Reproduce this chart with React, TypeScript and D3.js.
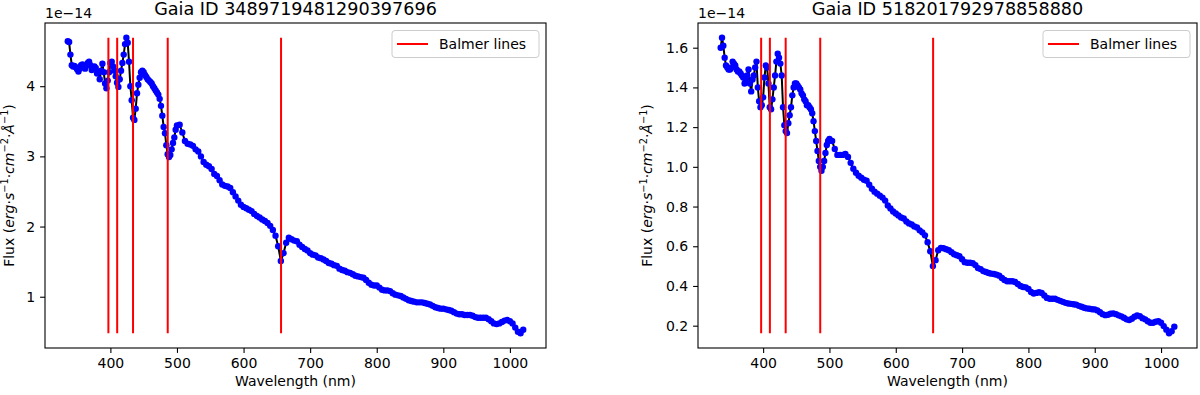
import React, { useEffect, useRef } from 'react';
import * as d3 from 'd3';

// Gaia XP sampled grid: 2 nm in the blue, 4 nm redwards of 500 nm
const WL_BLUE = d3.range(336, 500, 2);
const WL_RED = d3.range(500, 1021, 4);
const wavelengths = [...WL_BLUE, ...WL_RED];

// flux in units of 1e-14 erg s^-1 cm^-2 A^-1
const fluxA_blue = [
  4.64, 4.63, 4.45, 4.30, 4.28, 4.29, 4.27, 4.24, 4.21, 4.25,
  4.30, 4.31, 4.28, 4.25, 4.29, 4.33, 4.35, 4.30, 4.23, 4.25,
  4.28, 4.26, 4.18, 4.20, 4.10, 4.22, 4.32, 4.20, 4.04, 3.97,
  4.08, 4.20, 4.33, 4.35, 4.28, 4.22, 4.14, 4.05, 3.99, 4.10,
  4.22, 4.33, 4.45, 4.60, 4.69, 4.62, 4.35, 4.00, 3.80, 3.55,
  3.52, 3.68, 3.90, 4.02, 4.12, 4.20, 4.22, 4.20, 4.16, 4.13,
  4.10, 4.08, 4.06, 4.04, 4.00, 3.97, 3.94, 3.91, 3.88, 3.82,
  3.72, 3.58, 3.42, 3.33, 3.16, 3.03, 2.99, 3.02, 3.10, 3.19,
  3.27, 3.38,
];
const fluxA_red = [
  3.44, 3.45, 3.34, 3.22, 3.18, 3.17, 3.15, 3.10, 3.07, 3.00,
  2.92, 2.88, 2.86, 2.82, 2.75, 2.72, 2.66, 2.60, 2.58, 2.57,
  2.55, 2.49, 2.43, 2.37, 2.31, 2.28, 2.26, 2.24, 2.22, 2.18,
  2.15, 2.13, 2.10, 2.08, 2.05, 2.01, 1.95, 1.87, 1.72, 1.51,
  1.62, 1.77, 1.84, 1.82, 1.80, 1.79, 1.74, 1.71, 1.68, 1.66,
  1.62, 1.60, 1.59, 1.56, 1.55, 1.53, 1.51, 1.48, 1.47, 1.45,
  1.44, 1.40, 1.38, 1.37, 1.35, 1.34, 1.32, 1.30, 1.29, 1.28,
  1.27, 1.24, 1.20, 1.17, 1.16, 1.16, 1.13, 1.10, 1.09, 1.09,
  1.08, 1.05, 1.03, 1.02, 1.01, 0.99, 0.97, 0.95, 0.94, 0.93,
  0.92, 0.92, 0.92, 0.91, 0.90, 0.89, 0.87, 0.85, 0.84, 0.83,
  0.83, 0.82, 0.81, 0.80, 0.78, 0.76, 0.75, 0.75, 0.74, 0.74,
  0.74, 0.73, 0.71, 0.70, 0.70, 0.70, 0.70, 0.68, 0.65, 0.62,
  0.61, 0.62, 0.64, 0.66, 0.67, 0.65, 0.62, 0.56, 0.50, 0.48,
  0.53,
];

const fluxB_blue = [
  1.60, 1.65, 1.61, 1.55, 1.51, 1.50, 1.49, 1.49, 1.50, 1.53,
  1.52, 1.51, 1.49, 1.48, 1.48, 1.47, 1.46, 1.45, 1.42, 1.44,
  1.46, 1.49, 1.42, 1.38, 1.44, 1.46, 1.50, 1.53, 1.40, 1.33,
  1.30, 1.31, 1.35, 1.45, 1.51, 1.50, 1.42, 1.30, 1.29, 1.34,
  1.40, 1.46, 1.53, 1.57, 1.55, 1.52, 1.46, 1.30, 1.21, 1.18,
  1.17, 1.22, 1.26, 1.30, 1.36, 1.40, 1.42, 1.42, 1.41, 1.40,
  1.39, 1.37, 1.36, 1.34, 1.33, 1.31, 1.31, 1.30, 1.29, 1.27,
  1.23, 1.18, 1.13, 1.08, 1.03, 1.00, 0.98, 1.00, 1.03, 1.07,
  1.11, 1.13,
];
const fluxB_red = [
  1.14, 1.13, 1.09, 1.06, 1.06, 1.06, 1.065, 1.05, 1.02, 0.99,
  0.97, 0.955, 0.945, 0.935, 0.93, 0.91, 0.89, 0.875, 0.865, 0.855,
  0.845, 0.83, 0.805, 0.79, 0.775, 0.765, 0.755, 0.745, 0.74, 0.725,
  0.715, 0.71, 0.70, 0.695, 0.68, 0.67, 0.655, 0.62, 0.575, 0.50,
  0.53, 0.58, 0.592, 0.59, 0.585, 0.58, 0.57, 0.56, 0.555, 0.55,
  0.535, 0.52, 0.517, 0.517, 0.515, 0.505, 0.49, 0.485, 0.475, 0.47,
  0.465, 0.462, 0.46, 0.457, 0.452, 0.44, 0.43, 0.424, 0.424, 0.424,
  0.42, 0.41, 0.40, 0.395, 0.393, 0.385, 0.37, 0.362, 0.365, 0.369,
  0.365, 0.352, 0.34, 0.336, 0.336, 0.336, 0.33, 0.325, 0.32, 0.315,
  0.312, 0.31, 0.308, 0.306, 0.30, 0.295, 0.29, 0.287, 0.285, 0.283,
  0.282, 0.277, 0.268, 0.258, 0.253, 0.255, 0.26, 0.262, 0.258, 0.252,
  0.247, 0.24, 0.232, 0.228, 0.235, 0.245, 0.252, 0.248, 0.238, 0.232,
  0.222, 0.215, 0.215, 0.22, 0.223, 0.215, 0.198, 0.18, 0.162, 0.172,
  0.195,
];

const balmerLines = [397.0, 410.2, 434.0, 486.1, 656.3];
const xTicks = [400, 500, 600, 700, 800, 900, 1000];
const yTicksA = [1, 2, 3, 4];
const yTicksB = [0.2, 0.4, 0.6, 0.8, 1.0, 1.2, 1.4, 1.6];
const titles = ['Gaia ID 3489719481290397696', 'Gaia ID 518201792978858880'];

const FONT = 'DejaVu Sans, Verdana, sans-serif';
const W = 1200;
const H = 395;
const TOP = 23;
const BOTTOM = 348;

// axes frames and y-label positions
const frames = [
  { left: 45, right: 546, ylabelX: 13.5 },
  { left: 698, right: 1197, ylabelX: 652 },
];

function drawPanel(svg, flux, yTicks, yFmt, title, frame) {
  const g = svg.append('g');
  const pts = wavelengths.map((w, i) => ({ w, f: flux[i] }));

  const [wMin, wMax] = d3.extent(wavelengths);
  const xPad = (wMax - wMin) * 0.05;
  const x = d3.scaleLinear().domain([wMin - xPad, wMax + xPad]).range([frame.left, frame.right]);

  const [fMin, fMax] = d3.extent(flux);
  const yPad = (fMax - fMin) * 0.05;
  const y = d3.scaleLinear().domain([fMin - yPad, fMax + yPad]).range([BOTTOM, TOP]);

  const line = d3.line().x(d => x(d.w)).y(d => y(d.f));

  g.append('path')
    .datum(pts)
    .attr('d', line)
    .attr('fill', 'none')
    .attr('stroke', '#000')
    .attr('stroke-width', 2)
    .attr('stroke-linejoin', 'round');

  g.append('g')
    .selectAll('circle')
    .data(pts)
    .join('circle')
      .attr('cx', d => x(d.w))
      .attr('cy', d => y(d.f))
      .attr('r', 3.2)
      .attr('fill', '#0000ff');

  g.append('g')
    .selectAll('line')
    .data(balmerLines)
    .join('line')
      .attr('x1', d => x(d)).attr('x2', d => x(d))
      .attr('y1', y(fMin)).attr('y2', y(fMax))
      .attr('stroke', '#ff0000')
      .attr('stroke-width', 2);

  const xAxis = d3.axisBottom(x).tickValues(xTicks).tickFormat(d3.format('d'))
    .tickSize(4.9).tickPadding(4.9).tickSizeOuter(0);
  const yAxis = d3.axisLeft(y).tickValues(yTicks).tickFormat(yFmt)
    .tickSize(4.9).tickPadding(4.9).tickSizeOuter(0);

  const gx = g.append('g').attr('transform', `translate(0,${BOTTOM})`).call(xAxis);
  const gy = g.append('g').attr('transform', `translate(${frame.left},0)`).call(yAxis);
  [gx, gy].forEach(a => {
    a.select('.domain').remove();
    a.selectAll('line').attr('stroke', '#000').attr('stroke-width', 1.1);
    a.selectAll('text').attr('fill', '#000').style('font-family', FONT).style('font-size', '14px');
  });

  g.append('rect')
    .attr('x', frame.left).attr('y', TOP)
    .attr('width', frame.right - frame.left).attr('height', BOTTOM - TOP)
    .attr('fill', 'none').attr('stroke', '#000').attr('stroke-width', 1.1);

  const cx = (frame.left + frame.right) / 2;

  g.append('text')
    .attr('x', cx).attr('y', 14.5)
    .attr('text-anchor', 'middle')
    .style('font-family', FONT).style('font-size', '17.6px')
    .text(title);

  g.append('text')
    .attr('x', frame.left).attr('y', 18)
    .style('font-family', FONT).style('font-size', '14px')
    .text('1e\u221214');

  g.append('text')
    .attr('x', cx).attr('y', 386)
    .attr('text-anchor', 'middle')
    .style('font-family', FONT).style('font-size', '14px')
    .text('Wavelength (nm)');

  // y label with mathtext-like pieces
  const yl = g.append('text')
    .attr('transform', `translate(${frame.ylabelX},${(TOP + BOTTOM) / 2}) rotate(-90)`)
    .attr('text-anchor', 'middle')
    .style('font-family', FONT).style('font-size', '14px');
  const parts = [
    ['Flux (', 'n'], ['erg', 'i'], ['\u00b7', 'n'], ['s', 'i'], ['\u22121', 's'],
    ['\u00b7', 'n'], ['cm', 'i'], ['\u22122', 's'], ['\u00b7', 'n'], ['\u00c5', 'i'],
    ['\u22121', 's'], [')', 'n'],
  ];
  let raised = false;
  parts.forEach(([t, k]) => {
    const ts = yl.append('tspan').text(t);
    if (k === 'i') ts.style('font-style', 'italic');
    if (k === 's') {
      ts.style('font-size', '9.8px').attr('dy', raised ? 0 : -5.5);
      raised = true;
    } else if (raised) {
      ts.attr('dy', 5.5);
      raised = false;
    }
  });

  // legend
  const lg = g.append('g').attr('transform', `translate(${frame.right - 7 - 147},${TOP + 7.5})`);
  lg.append('rect')
    .attr('width', 147).attr('height', 27).attr('rx', 3)
    .attr('fill', '#fff').attr('fill-opacity', 0.8)
    .attr('stroke', '#cccccc').attr('stroke-width', 1);
  lg.append('line')
    .attr('x1', 5).attr('x2', 36).attr('y1', 13.5).attr('y2', 13.5)
    .attr('stroke', '#ff0000').attr('stroke-width', 2);
  lg.append('text')
    .attr('x', 47).attr('y', 18.5)
    .style('font-family', FONT).style('font-size', '14px')
    .text('Balmer lines');
}

function SpectraChart() {
  const ref = useRef(null);

  useEffect(() => {
    const svg = d3.select(ref.current);
    svg.selectAll('*').remove();
    svg.append('rect').attr('width', W).attr('height', H).attr('fill', '#fff');

    drawPanel(svg, [...fluxA_blue, ...fluxA_red], yTicksA, d3.format('d'), titles[0], frames[0]);
    drawPanel(svg, [...fluxB_blue, ...fluxB_red], yTicksB, d3.format('.1f'), titles[1], frames[1]);
  }, []);

  return <svg ref={ref} width={W} height={H} style={{ display: 'block' }} />;
}

export default function App() {
  return (
    <>
      <style>{'body{margin:0;background:#fff}'}</style>
      <SpectraChart />
    </>
  );
}
